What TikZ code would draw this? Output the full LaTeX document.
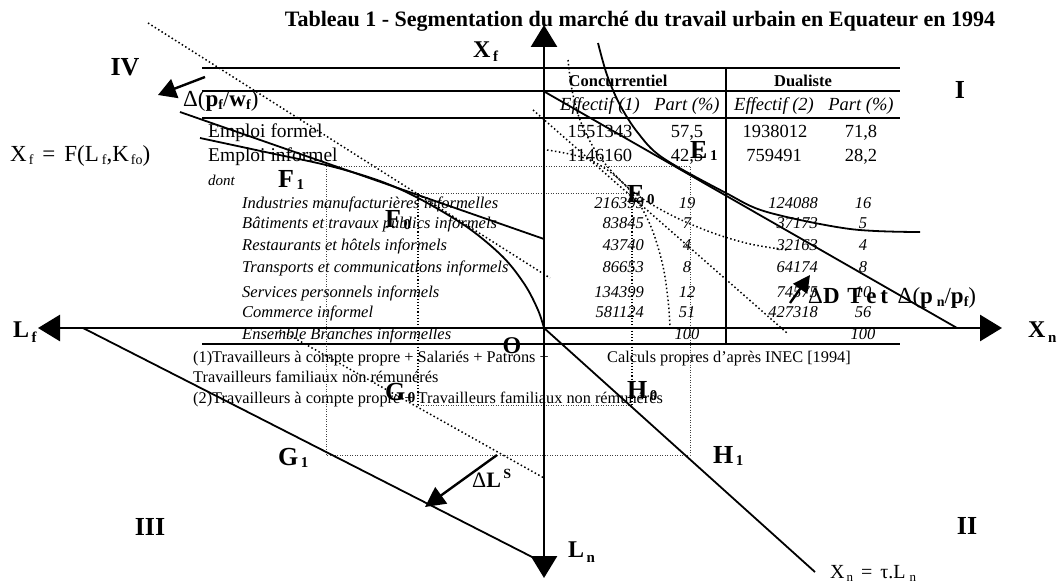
\documentclass[tikz,border=0pt]{standalone}
\usepackage{fontspec}
\setmainfont{Liberation Serif}
\usetikzlibrary{arrows.meta}
\newcommand\fs[1]{\fontsize{#1}{#1}\selectfont}
\newcommand\lo[3]{\raisebox{-#1}{\fs{#2}#3}}
\newcommand\ptlab[2]{{\fs{26}\bfseries #1}\lo{2pt}{15}{\bfseries\,#2}}
\newcommand\axlab[2]{{\fs{24}\bfseries #1}\lo{5pt}{15}{\bfseries\,#2}}
\begin{document}
\begin{tikzpicture}[x=1pt,y=-1pt,
  tx/.style={inner sep=0pt,anchor=base west},
  tc/.style={inner sep=0pt,anchor=base},
  te/.style={inner sep=0pt,anchor=base east},
  tl/.style={line width=1.8pt},
  cv/.style={line width=1.8pt},
  axis/.style={line width=2.8pt,{Triangle[length=22pt,width=26pt]}-{Triangle[length=22pt,width=26pt]}},
  dt/.style={line width=1.5pt,dash pattern=on 1.5pt off 2.5pt},
  gd/.style={line width=0.8pt,dash pattern=on 0.8pt off 1.7pt,black!75},
  gdb/.style={line width=1.2pt,dash pattern=on 1.2pt off 2pt},
  sh/.style={line width=2.4pt},
  rowf/.style={tx,font=\fs{19.5}},
  num/.style={tc,font=\fs{18.5}},
  ita/.style={font=\fs{16.5}\itshape},
  foot/.style={tx,font=\fs{16.3}},
  quad/.style={inner sep=0pt,font=\fs{26}\bfseries}]
\useasboundingbox (0,0) rectangle (1064,586);

% ---------- table ----------
\node[tc,font=\fs{22}\bfseries] (title) at (640,27) {Tableau 1 - Segmentation du marché du travail urbain en Equateur en 1994};
\draw[tl] (202,68) -- (900,68);
\draw[tl] (202,91) -- (900,91);
\draw[tl] (202,118) -- (900,118);
\draw[tl] (202,344) -- (900,344);
\draw[tl] (726,68) -- (726,344);

\node[tc,font=\fs{16.5}\bfseries] (hc) at (618,86) {Concurrentiel};
\node[tc,font=\fs{16.5}\bfseries] (hd) at (803,86) {Dualiste};
\node[tc,font=\fs{18.5}\itshape] (h1) at (600,110) {Effectif (1)};
\node[tc,font=\fs{18.5}\itshape] (h2) at (687,110) {Part (\%)};
\node[tc,font=\fs{18.5}\itshape] (h3) at (774,110) {Effectif (2)};
\node[tc,font=\fs{18.5}\itshape] (h4) at (861,110) {Part (\%)};

\node[rowf] (ra) at (208,137) {Emploi formel};
\node[num] (ra1) at (600,137) {1551343};
\node[num] (ra2) at (687,137) {57,5};
\node[num] (ra3) at (775,137) {1938012};
\node[num] (ra4) at (861,137) {71,8};
\node[rowf] (rb) at (208,161) {Emploi informel};
\node[num] (rb1) at (600,161) {1146160};
\node[num] (rb2) at (687,161) {42,5};
\node[num] (rb3) at (774,161) {759491};
\node[num] (rb4) at (861,161) {28,2};
\node[tx,font=\fs{15}\itshape] (dont) at (208,185) {dont};

\foreach \yy/\lab/\na/\pa/\nb/\pb [count=\i] in {
  208/Industries manufacturières informelles/216399/19/124088/16,
  228/Bâtiments et travaux publics informels/83845/7/37173/5,
  250/Restaurants et hôtels informels/43740/4/32163/4,
  272/Transports et communications informels/86653/8/64174/8,
  297/Services personnels informels/134399/12/74575/10,
  317/Commerce informel/581124/51/427318/56,
  339/Ensemble Branches informelles//100//100}{
  \node[tx,ita] (s\i) at (242,\yy) {\lab};
  \node[te,ita] (s\i a) at (644,\yy) {\na};
  \node[tc,ita] (s\i b) at (687,\yy) {\pa};
  \node[te,ita] (s\i c) at (818,\yy) {\nb};
  \node[tc,ita] (s\i d) at (863,\yy) {\pb};
}

\node[foot] (f1) at (193,362) {(1)Travailleurs à compte propre + Salariés + Patrons +};
\node[foot] (f2) at (193,382) {Travailleurs familiaux non rémunérés};
\node[foot] (f3) at (193,403) {(2)Travailleurs à compte propre + Travailleurs familiaux non rémunérés};
\node[foot] (src) at (607,362) {Calculs propres d\symbol{39}après INEC [1994]};

% ---------- diagram points ----------
\coordinate (O) at (544,328);
\coordinate (top) at (544,25);
\coordinate (bot) at (544,578);
\coordinate (lft) at (38,328);
\coordinate (rgt) at (1002,328);
\coordinate (F1) at (326,166);
\coordinate (E1) at (690,166);
\coordinate (H1) at (690,455);
\coordinate (G1) at (326,455);
\coordinate (F0) at (418,193);
\coordinate (E0) at (632,193);
\coordinate (H0) at (632,405);
\coordinate (G0) at (418,405);

% guide rectangles
\draw[gd] (F1) -- (E1) -- (H1) -- (G1) -- cycle;
\draw[gd] (F0) -- (E0);
\draw[gd] (G0) -- (H0);
\draw[gdb] (F0) -- (G0);
\draw[gdb] (E0) -- (H0);

% quadrant IV
\coordinate (p4a) at (180,112);
\coordinate (p4b) at (544,239);
\draw[cv] (p4a) -- (p4b);
\coordinate (d4a) at (148,23);
\coordinate (d4b) at (550,278);
\draw[dt] (d4a) -- (d4b);
\draw[cv] plot[smooth,tension=0.55] coordinates {(200,138) (270,153) (330,166) (380,181) (420,199) (467,227) (503,257) (525,285) (538,310) (O)};

% quadrant I
\coordinate (p1a) at (545,92);
\coordinate (p1b) at (957,328);
\draw[cv] (p1a) -- (p1b);
\draw[cv] plot[smooth,tension=0.55] coordinates {(598,43) (607,75) (620,105) (638,133) (663,158) (726,193) (767,212) (850,229) (920,232)};
\coordinate (d1a) at (533,110);
\coordinate (d1b) at (787,333);
\draw[dt] (d1a) -- (d1b);
\draw[dt] plot[smooth,tension=0.55] coordinates {(568,60) (572,90) (580,120) (595,150) (615,175) (640,197) (675,217) (713,233) (750,244) (787,250)};
\draw[dt] plot[smooth,tension=0.6] coordinates {(547,150) (590,160) (625,185) (648,220) (662,262) (668,300) (670,328)};

% quadrant III
\coordinate (p3a) at (83,328);
\coordinate (p3b) at (538,560);
\draw[cv] (p3a) -- (p3b);
\coordinate (d3a) at (280,330);
\coordinate (d3b) at (544,478);
\draw[dt] (d3a) -- (d3b);

% quadrant II
\coordinate (p2b) at (815,572);
\draw[cv] (O) -- (p2b);

% axes
\draw[axis] (top) -- (bot);
\draw[axis] (lft) -- (rgt);

% shift arrows
\coordinate (aLa) at (497,455);
\coordinate (aLb) at (425,507);
\draw[sh,-{Triangle[length=20pt,width=20pt]}] (aLa) -- (aLb);
\coordinate (aPa) at (205,77);
\coordinate (aPb) at (158,95);
\draw[sh,-{Triangle[length=18pt,width=20pt]}] (aPa) -- (aPb);
\coordinate (aDa) at (790,303);
\coordinate (aDb) at (810,275);
\draw[sh,-{Triangle[length=17pt,width=17pt]}] (aDa) -- (aDb);

% labels
\node[tx] (lXf) at (473,57) {\axlab{X}{f}};
\node[tx] (lLf) at (13,337) {\axlab{L}{f}};
\node[tx] (lXn) at (1028,337) {\axlab{X}{n}};
\node[tx] (lLn) at (568,557) {\axlab{L}{n}};
\node[inner sep=0pt,font=\fs{24}\bfseries] (lO) at (512,346) {O};
\node[quad] (qIV) at (125,67) {IV};
\node[quad] (qI) at (960,90) {I};
\node[quad] (qII) at (967,526) {II};
\node[quad] (qIII) at (150,527) {III};

\node[tx] (lE1) at (690,158) {\ptlab{E}{1}};
\node[tx] (lE0) at (627,202) {\ptlab{E}{0}};
\node[tx] (lF1) at (278,187) {\ptlab{F}{1}};
\node[tx] (lF0) at (385,227) {\ptlab{F}{0}};
\node[tx] (lG1) at (278,465) {\ptlab{G}{1}};
\node[tx] (lG0) at (385,400) {\ptlab{G}{0}};
\node[tx] (lH0) at (627,398) {\ptlab{H}{0}};
\node[tx] (lH1) at (713,463) {\ptlab{H}{1}};

\node[tx] (lDL) at (472,487) {{\fs{22}Δ\bfseries L}\raisebox{9pt}{\fs{14}\bfseries\,S}};
\node[tx] (lDP) at (183,106) {\fs{23}Δ(\textbf{p}\lo{3pt}{14}{\bfseries f}/\textbf{w}\lo{3pt}{14}{\bfseries f})};
\node[tx] (lDT) at (808,303) {{\fs{23}Δ\bfseries D\,\,T\,e\,t\ \,}{\fs{23}Δ(\textbf{p}\,\lo{3pt}{14}{\bfseries n}/\textbf{p}\lo{3pt}{14}{\bfseries f})}};
\node[tx] (lFx) at (10,161) {\fs{23}X\lo{3pt}{14}{\hspace{2pt}f}\hspace{9pt}=\hspace{9pt}F(L\lo{3pt}{14}{\hspace{3pt}f},K\lo{3pt}{14}{\hspace{2pt}fo})};
\node[tx] (lXl) at (830,578) {\fs{20}X\lo{3pt}{13}{\hspace{2pt}n}\hspace{8pt}=\hspace{8pt}τ.L\lo{3pt}{13}{\hspace{4pt}n}};
\end{tikzpicture}
\end{document}
